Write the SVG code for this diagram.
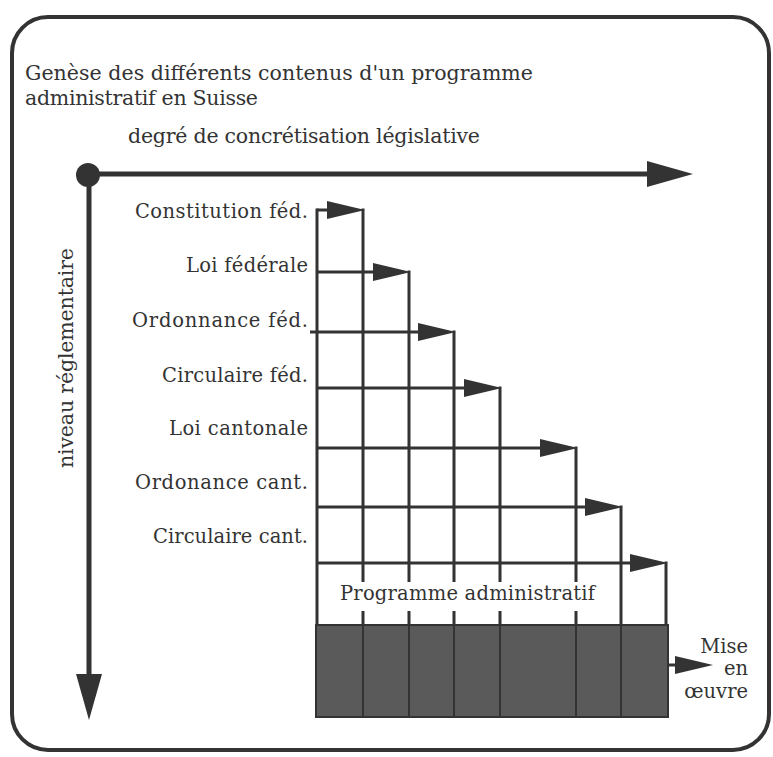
<svg xmlns="http://www.w3.org/2000/svg" width="773" height="757" viewBox="0 0 773 757">
  <style>
    text { font-family: "DejaVu Serif", "Liberation Serif", serif; fill: #333; }
    .title { font-size: 20.5px; }
    .lbl { font-size: 19.5px; }
    .axis { stroke: #333; stroke-width: 5; fill: none; }
    .grid { stroke: #333; stroke-width: 3; fill: none; }
    .thin { stroke: #333; stroke-width: 2; fill: none; }
  </style>
  <defs>
    <marker id="headBig" markerUnits="userSpaceOnUse" markerWidth="46" markerHeight="26" refX="16" refY="13" orient="auto">
      <path d="M0,0 L46,13 L0,26 Z" fill="#333"/>
    </marker>
    <marker id="head" markerUnits="userSpaceOnUse" markerWidth="38" markerHeight="18" refX="16" refY="9" orient="auto">
      <path d="M0,0 L38,9 L0,18 Z" fill="#333"/>
    </marker>
    <marker id="headSmall" markerUnits="userSpaceOnUse" markerWidth="38" markerHeight="18" refX="6" refY="9" orient="auto">
      <path d="M0,0 L38,9 L0,18 Z" fill="#333"/>
    </marker>
  </defs>

  <!-- outer frame -->
  <rect x="12" y="17" width="757" height="733" rx="36" ry="36" fill="#fff" stroke="#333" stroke-width="4"/>

  <!-- heading -->
  <g id="heading">
    <text class="title" x="25" y="80" textLength="508">Genèse des différents contenus d'un programme</text>
    <text class="title" x="25" y="105" textLength="233">administratif en Suisse</text>
  </g>

  <!-- axes -->
  <g id="axes">
    <circle cx="88" cy="175" r="12" fill="#333"/>
    <path class="axis" d="M88,174 L663,174" marker-end="url(#headBig)"/>
    <path class="axis" d="M89,175 L89,690" marker-end="url(#headBig)"/>
    <text class="title" x="128" y="143" textLength="352">degré de concrétisation législative</text>
    <text class="title" transform="translate(73,468) rotate(-90)" x="0" y="0" textLength="220">niveau réglementaire</text>
  </g>

  <!-- level labels -->
  <g id="labels" text-anchor="end">
    <text class="lbl" x="308" y="218" textLength="173">Constitution féd.</text>
    <text class="lbl" x="308" y="272" textLength="122">Loi fédérale</text>
    <text class="lbl" x="308" y="327" textLength="176">Ordonnance féd.</text>
    <text class="lbl" x="308" y="382" textLength="146">Circulaire féd.</text>
    <text class="lbl" x="308" y="435" textLength="139">Loi cantonale</text>
    <text class="lbl" x="308" y="489" textLength="173">Ordonance cant.</text>
    <text class="lbl" x="308" y="543" textLength="155">Circulaire cant.</text>
  </g>

  <!-- connectors: row arrows and columns -->
  <g id="connectors">
    <path class="grid" d="M317,210 L343,210" marker-end="url(#head)"/>
    <path class="grid" d="M317,272 L389,272" marker-end="url(#head)"/>
    <path class="grid" d="M310,332 L434,332" marker-end="url(#head)"/>
    <path class="grid" d="M317,388 L480,388" marker-end="url(#head)"/>
    <path class="grid" d="M317,448 L556,448" marker-end="url(#head)"/>
    <path class="grid" d="M317,507 L601,507" marker-end="url(#head)"/>
    <path class="grid" d="M317,563 L646,563" marker-end="url(#head)"/>

    <path class="grid" d="M317,208.5 L317,625"/>
    <path class="grid" d="M363,208.5 L363,582 M363,611 L363,625"/>
    <path class="grid" d="M409,270.5 L409,582 M409,611 L409,625"/>
    <path class="grid" d="M454,330.5 L454,582 M454,611 L454,625"/>
    <path class="grid" d="M500,386.5 L500,582 M500,611 L500,625"/>
    <path class="grid" d="M576,446.5 L576,582 M576,611 L576,625"/>
    <path class="grid" d="M621,505.5 L621,625"/>
    <path class="grid" d="M666,561.5 L666,625"/>
  </g>

  <!-- programme band -->
  <g id="programme">
    <text class="lbl" x="340" y="600" textLength="255">Programme administratif</text>
  </g>

  <!-- implementation block -->
  <g id="block">
    <rect x="316" y="625" width="352" height="92" fill="#5a5a5a" stroke="#333" stroke-width="2"/>
    <path class="thin" d="M363,625 V717 M409,625 V717 M454,625 V717 M500,625 V717 M576,625 V717 M621,625 V717"/>
  </g>

  <!-- implementation arrow and label -->
  <g id="mise">
    <path class="grid" d="M669,665 L681,665" marker-end="url(#headSmall)"/>
    <g text-anchor="end">
      <text class="lbl" x="748" y="653">Mise</text>
      <text class="lbl" x="748" y="675">en</text>
      <text class="lbl" x="748" y="698">œuvre</text>
    </g>
  </g>
</svg>
